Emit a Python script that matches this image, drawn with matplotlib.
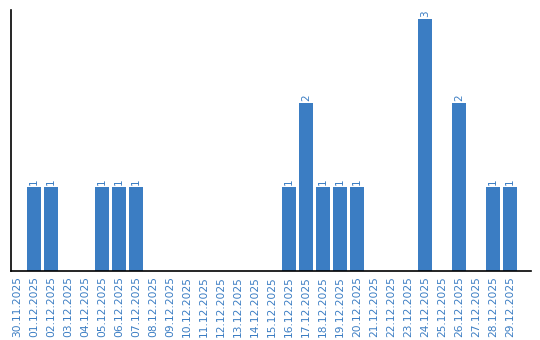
import matplotlib
matplotlib.use("Agg")
import matplotlib.pyplot as plt

dates = ["30.11.2025", "01.12.2025", "02.12.2025", "03.12.2025", "04.12.2025",
         "05.12.2025", "06.12.2025", "07.12.2025", "08.12.2025", "09.12.2025",
         "10.12.2025", "11.12.2025", "12.12.2025", "13.12.2025", "14.12.2025",
         "15.12.2025", "16.12.2025", "17.12.2025", "18.12.2025", "19.12.2025",
         "20.12.2025", "21.12.2025", "22.12.2025", "23.12.2025", "24.12.2025",
         "25.12.2025", "26.12.2025", "27.12.2025", "28.12.2025", "29.12.2025"]
counts = [0, 1, 1, 0, 0, 1, 1, 1, 0, 0,
          0, 0, 0, 0, 0, 0, 1, 2, 1, 1,
          1, 0, 0, 0, 3, 0, 2, 0, 1, 1]

blue = "#3b7dc3"

fig = plt.figure(figsize=(5.4, 3.4), dpi=100)
ax = fig.add_axes([10.5 / 540, 69.5 / 340, 520 / 540, 260.5 / 340])

x = range(len(dates))
ax.bar(x, counts, width=0.82, color=blue)
for i, v in enumerate(counts):
    if v > 0:
        ax.text(i, v + 0.025, str(v), rotation=90, ha="center", va="bottom",
                fontsize=7.5, color=blue)

ax.set_xlim(-0.38, 30.2)
ax.set_ylim(0, 3.11)
ax.set_xticks(list(x))
ax.set_xticklabels(dates, rotation=90, fontsize=7.7, color=blue)
ax.tick_params(axis="x", length=0, pad=4)
ax.set_yticks([])
ax.spines["top"].set_visible(False)
ax.spines["right"].set_visible(False)
ax.spines["left"].set_linewidth(1.2)
ax.spines["bottom"].set_linewidth(1.2)

fig.savefig("out.png", dpi=100)
